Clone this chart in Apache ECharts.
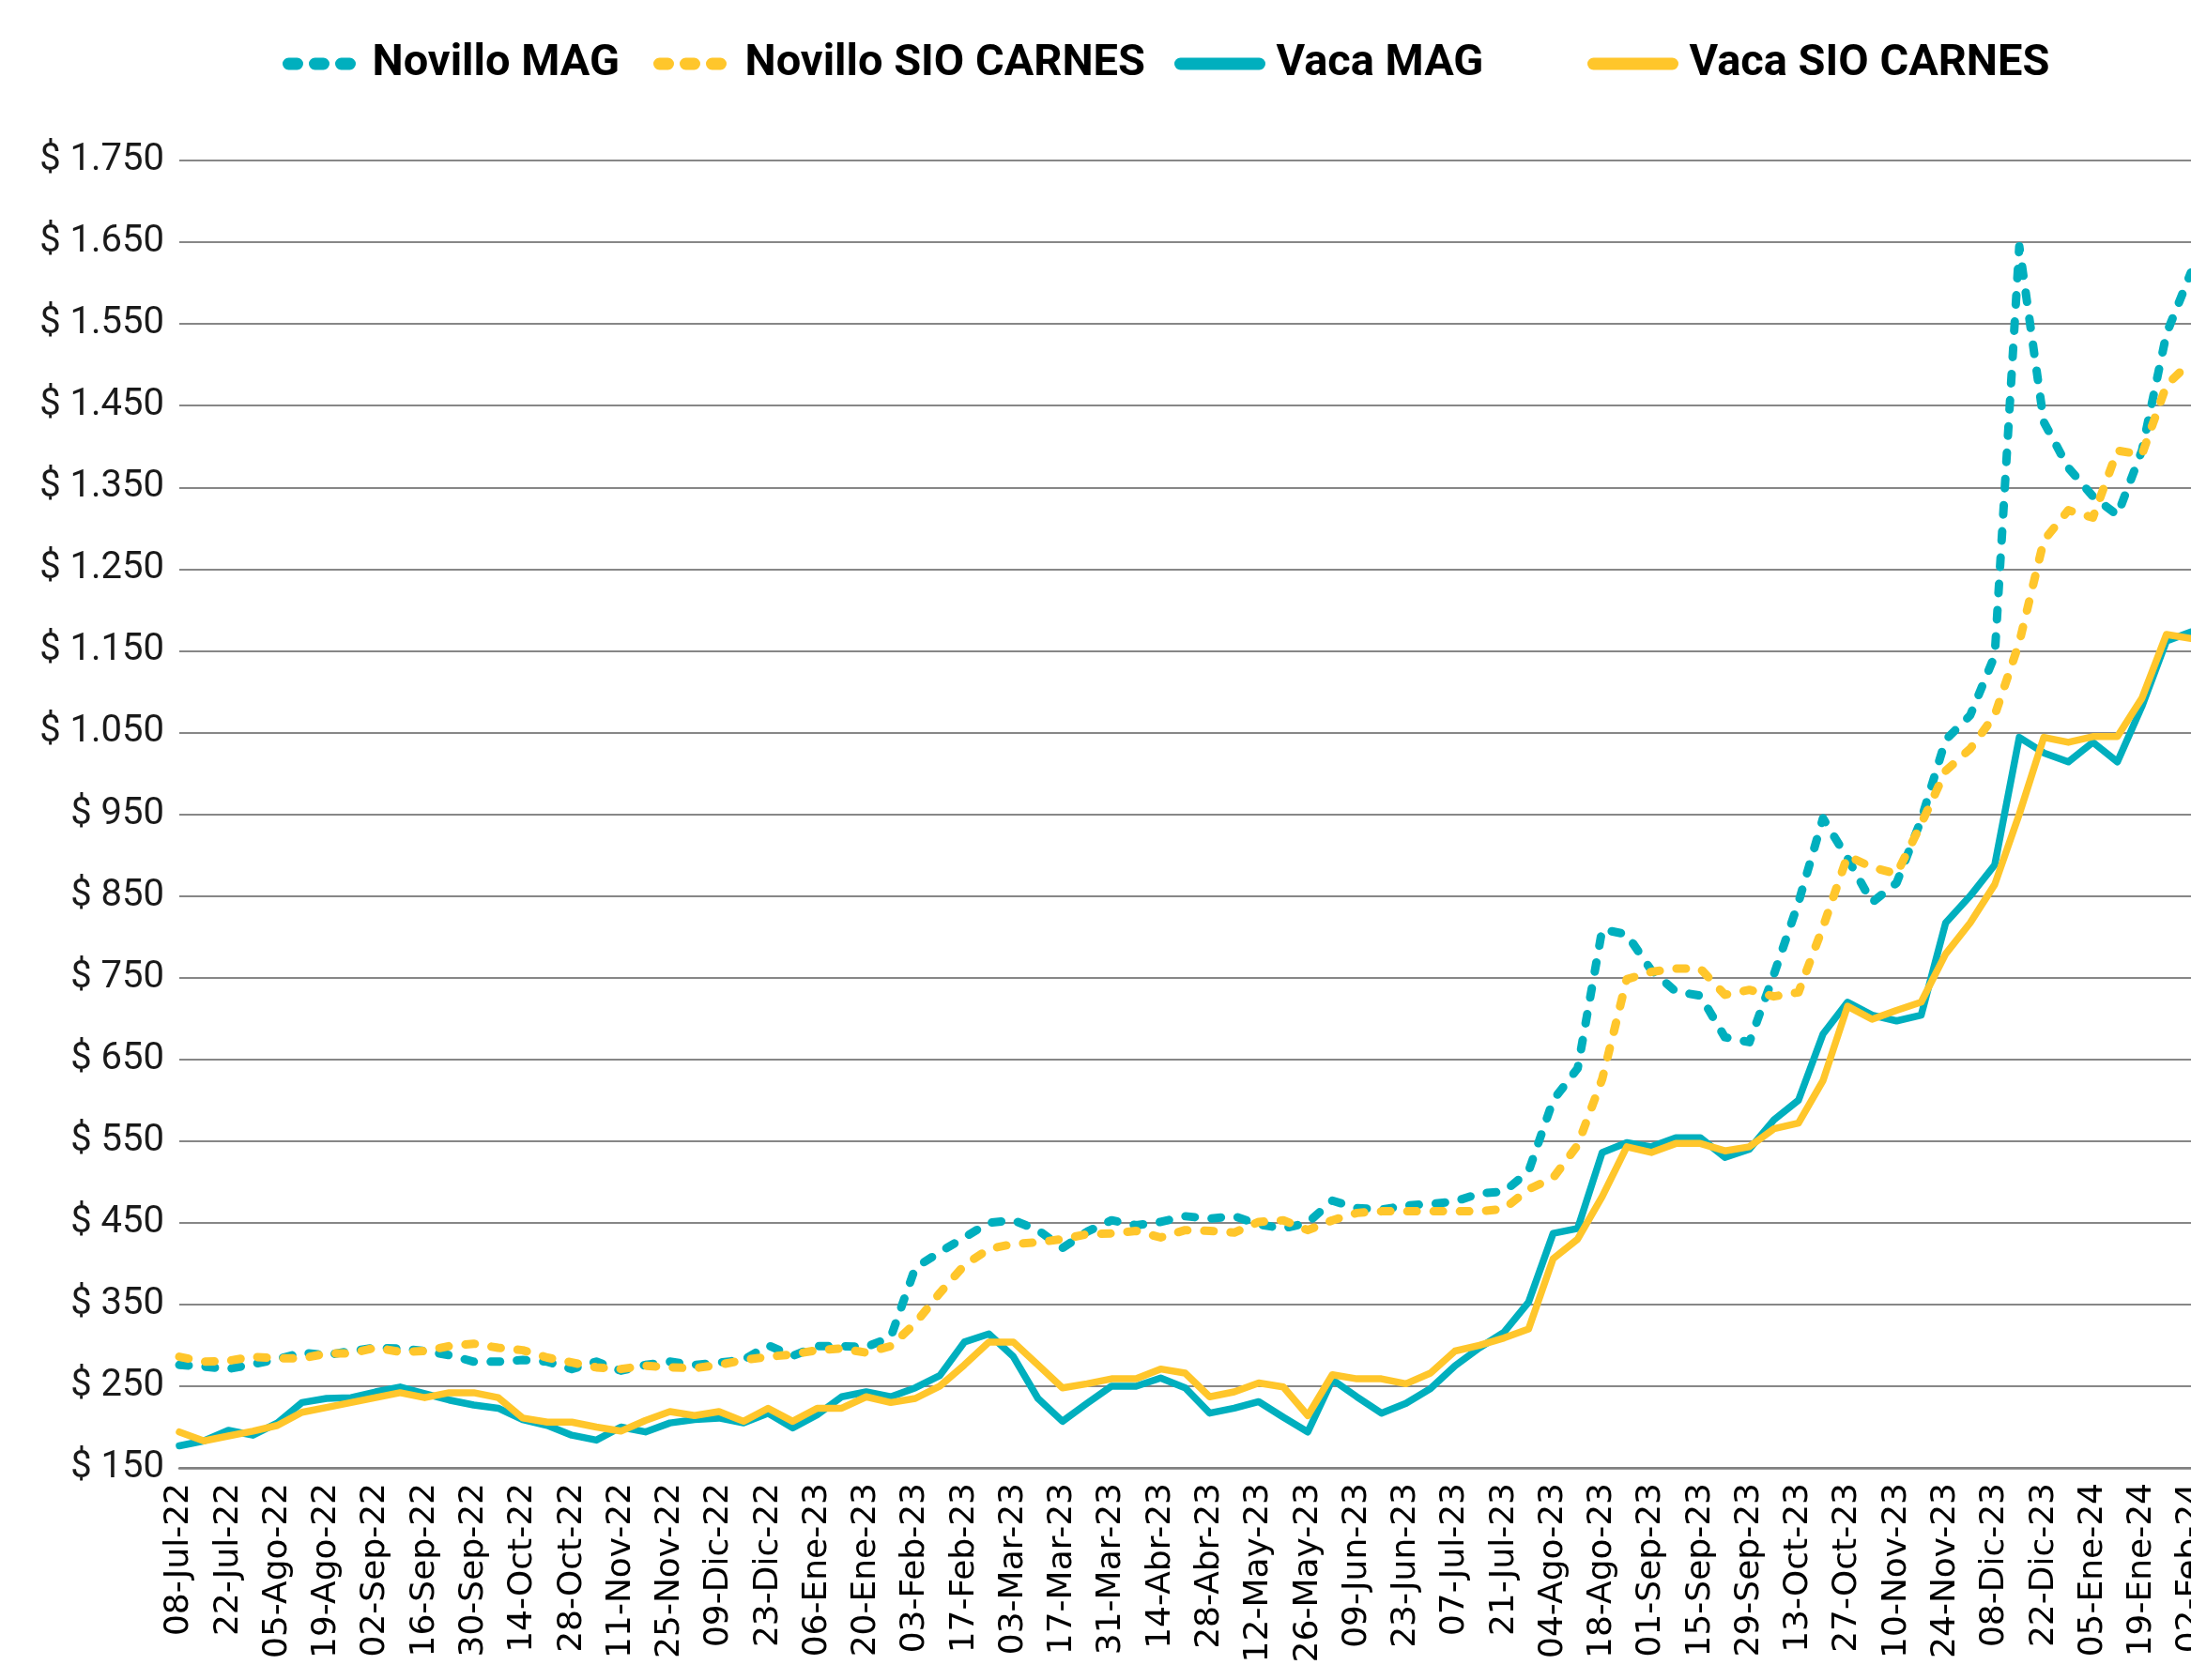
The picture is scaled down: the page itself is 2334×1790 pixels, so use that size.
<!DOCTYPE html>
<html>
<head>
<meta charset="utf-8">
<script src="https://cdn.jsdelivr.net/npm/echarts@6.0.0/dist/echarts.min.js"></script>
<style>
  html, body { margin: 0; padding: 0; background: #ffffff; overflow: hidden; }
  #chart { width: 2334px; height: 1790px; }
</style>
</head>
<body>
<div id="chart"></div>
<script>
const categories = [
  '08-Jul-22','15-Jul-22','22-Jul-22','29-Jul-22','05-Ago-22','12-Ago-22','19-Ago-22','26-Ago-22',
  '02-Sep-22','09-Sep-22','16-Sep-22','23-Sep-22','30-Sep-22','07-Oct-22','14-Oct-22','21-Oct-22',
  '28-Oct-22','04-Nov-22','11-Nov-22','18-Nov-22','25-Nov-22','02-Dic-22','09-Dic-22','16-Dic-22',
  '23-Dic-22','30-Dic-22','06-Ene-23','13-Ene-23','20-Ene-23','27-Ene-23','03-Feb-23','10-Feb-23',
  '17-Feb-23','24-Feb-23','03-Mar-23','10-Mar-23','17-Mar-23','24-Mar-23','31-Mar-23','07-Abr-23',
  '14-Abr-23','21-Abr-23','28-Abr-23','05-May-23','12-May-23','19-May-23','26-May-23','02-Jun-23',
  '09-Jun-23','16-Jun-23','23-Jun-23','30-Jun-23','07-Jul-23','14-Jul-23','21-Jul-23','28-Jul-23',
  '04-Ago-23','11-Ago-23','18-Ago-23','25-Ago-23','01-Sep-23','08-Sep-23','15-Sep-23','22-Sep-23',
  '29-Sep-23','06-Oct-23','13-Oct-23','20-Oct-23','27-Oct-23','03-Nov-23','10-Nov-23','17-Nov-23',
  '24-Nov-23','01-Dic-23','08-Dic-23','15-Dic-23','22-Dic-23','29-Dic-23','05-Ene-24','12-Ene-24',
  '19-Ene-24','26-Ene-24','02-Feb-24'
];

const novilloMAG = [
  276,274,271,277,283,291,288,293,297,296,293,288,280,280,282,280,
  271,280,269,276,280,276,279,282,300,287,299,299,298,310,395,414,
  432,450,453,441,419,439,453,447,451,458,455,458,448,443,450,477,
  468,466,471,473,476,486,488,513,600,639,809,803,759,733,728,677,
  671,754,842,945,896,842,866,943,1041,1071,1144,1645,1430,1374,1339,1316,
  1395,1538,1613
];

const novilloSIO = [
  286,280,281,286,284,284,290,290,297,292,293,299,302,297,294,285,
  279,273,271,275,273,272,276,282,286,289,294,296,291,299,327,364,
  398,418,424,426,430,436,437,440,432,441,440,438,451,453,441,453,
  462,464,464,464,464,464,467,491,505,545,626,748,757,761,761,729,
  735,727,732,812,899,885,877,938,1003,1030,1071,1160,1285,1322,1313,1395,
  1390,1475,1504
];

const vacaMAG = [
  177,183,196,190,205,230,235,236,243,249,241,233,227,223,209,202,
  190,184,200,194,205,209,211,205,217,199,215,237,243,237,248,263,
  304,314,286,235,207,229,250,250,260,248,217,223,231,212,194,258,
  237,217,229,247,275,297,316,353,437,443,536,548,543,554,554,530,
  540,576,600,681,720,704,697,704,817,850,888,1044,1025,1014,1038,1014,
  1082,1162,1173
];

const vacaSIO = [
  194,183,189,195,202,218,224,230,236,242,236,242,242,236,211,206,
  206,200,195,208,219,214,219,207,223,207,223,223,237,230,235,250,
  276,304,304,276,248,253,259,259,271,266,237,243,254,249,214,264,
  259,259,253,266,293,300,309,320,406,430,482,543,536,547,547,538,
  543,565,572,624,715,699,710,720,779,817,864,950,1044,1038,1045,1045,
  1092,1170,1165
];

const yTicks = { min: 150, max: 1750, step: 100 };
const seriesNames = ['Novillo MAG', 'Novillo SIO CARNES', 'Vaca MAG', 'Vaca SIO CARNES'];

const TEAL = '#00AFBE';
const YELLOW = '#FFC62B';

function fmtMoney(v) {
  const s = String(Math.round(v));
  const withDots = s.replace(/\B(?=(\d{3})+(?!\d))/g, '.');
  return '$ ' + withDots;
}

const chart = echarts.init(document.getElementById('chart'), null, { renderer: 'canvas' });

const dotted = { width: 9, type: [10, 18], cap: 'round', join: 'round' };
const solid = { width: 7.5, type: 'solid', cap: 'round', join: 'round' };

function legendAt(name, left, itemWidth, pad, isDotted) {
  return {
    data: [name],
    left: left,
    top: 44,
    orient: 'horizontal',
    itemWidth: itemWidth,
    itemHeight: 14,
    padding: 0,
    selectedMode: false,
    itemStyle: { opacity: 0 },
    lineStyle: isDotted
      ? { width: 13, type: [9, 19], cap: 'round' }
      : { width: 13, type: 'solid', cap: 'round' },
    textStyle: {
      fontFamily: 'Roboto',
      fontWeight: 'bold',
      fontSize: 47,
      color: '#000000',
      lineHeight: 48,
      padding: [0, 0, 0, pad]
    }
  };
}

const option = {
  backgroundColor: '#ffffff',
  animation: false,
  legend: [
    legendAt(seriesNames[0], 301, 70, 14, true),
    legendAt(seriesNames[1], 696, 71, 15, true),
    legendAt(seriesNames[2], 1251, 84, 13, false),
    legendAt(seriesNames[3], 1691, 84, 13, false)
  ],
  grid: {
    left: 191,
    right: 0,
    top: 171,
    bottom: 226,
    containLabel: false,
    outerBoundsMode: 'none'
  },
  xAxis: {
    type: 'category',
    data: categories,
    boundaryGap: false,
    axisTick: { show: false },
    axisLine: { show: true, lineStyle: { color: '#808080', width: 2.5 } },
    splitLine: { show: false },
    axisLabel: {
      interval: 1,
      rotate: 90,
      margin: 16,
      fontFamily: 'DejaVu Sans',
      fontSize: 36,
      color: '#000000',
      hideOverlap: false
    }
  },
  yAxis: {
    type: 'value',
    min: yTicks.min,
    max: yTicks.max,
    interval: yTicks.step,
    axisLine: { show: false },
    axisTick: { show: false },
    splitLine: { show: true, lineStyle: { color: '#5f5f5f', width: 1.5 } },
    axisLabel: {
      margin: 16,
      fontFamily: 'Roboto',
      fontSize: 40,
      color: '#1a1a1a',
      formatter: fmtMoney
    }
  },
  series: [
    {
      name: seriesNames[0], type: 'line', data: novilloMAG,
      symbol: 'none', showSymbol: false, smooth: false,
      itemStyle: { color: TEAL },
      lineStyle: Object.assign({ color: TEAL }, dotted)
    },
    {
      name: seriesNames[1], type: 'line', data: novilloSIO,
      symbol: 'none', showSymbol: false, smooth: false,
      itemStyle: { color: YELLOW },
      lineStyle: Object.assign({ color: YELLOW }, dotted)
    },
    {
      name: seriesNames[2], type: 'line', data: vacaMAG,
      symbol: 'none', showSymbol: false, smooth: false,
      itemStyle: { color: TEAL },
      lineStyle: Object.assign({ color: TEAL }, solid)
    },
    {
      name: seriesNames[3], type: 'line', data: vacaSIO,
      symbol: 'none', showSymbol: false, smooth: false,
      itemStyle: { color: YELLOW },
      lineStyle: Object.assign({ color: YELLOW }, solid)
    }
  ]
};

chart.setOption(option);
</script>
</body>
</html>
